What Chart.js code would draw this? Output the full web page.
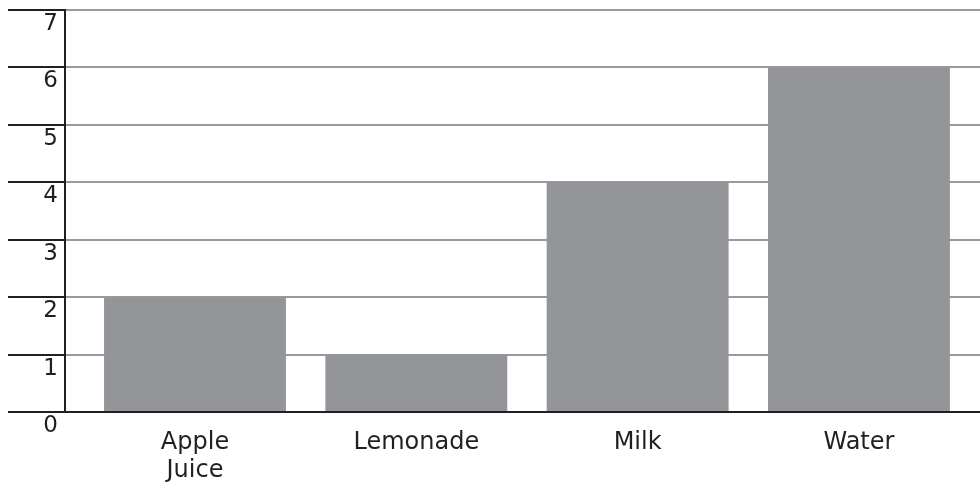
<!DOCTYPE html>
<html>
<head>
<meta charset="utf-8">
<script src="https://cdn.jsdelivr.net/npm/chart.js@4/dist/chart.umd.min.js"></script>
<style>
    html, body { margin: 0; padding: 0; background: #fff; }
    #wrap { width: 980px; height: 485px; }
</style>
</head>
<body>
<div id="wrap"><canvas id="drinksChart" width="980" height="485"></canvas></div>
<script>
// Chart data
const categories = [['Apple', 'Juice'], 'Lemonade', 'Milk', 'Water'];
const drinkCounts = [2, 1, 4, 6];
const yTickValues = [0, 1, 2, 3, 4, 5, 6, 7];

const inkColor = '#231f20';
const gridColor = '#9a9a9a';
const barColor = '#939598';

const ctx = document.getElementById('drinksChart').getContext('2d');
new Chart(ctx, {
    type: 'bar',
    data: {
        datasets: [{
            data: drinkCounts.map((v, i) => ({ x: i, y: v })),
            backgroundColor: barColor,
            borderWidth: 0,
            barPercentage: 0.822,
            categoryPercentage: 1
        }]
    },
    options: {
        responsive: false,
        animation: false,
        devicePixelRatio: 1,
        layout: { padding: { top: 10, left: 0, right: 0, bottom: 0 } },
        plugins: {
            legend: { display: false },
            tooltip: { enabled: false }
        },
        scales: {
            x: {
                type: 'linear',
                offset: false,
                bounds: 'data',
                min: -0.5874,
                max: 3.547,
                afterBuildTicks: (scale) => {
                    scale.ticks = categories.map((_, i) => ({ value: i }));
                },
                afterFit: (scale) => { scale.height = 73; },
                grid: { display: false },
                border: { color: inkColor, width: 2 },
                ticks: {
                    autoSkip: false,
                    maxRotation: 0,
                    padding: 8,
                    color: inkColor,
                    font: { family: 'DejaVu Sans', size: 24 },
                    callback: (value) => categories[value]
                }
            },
            y: {
                min: 0,
                max: 7,
                afterBuildTicks: (scale) => {
                    scale.ticks = yTickValues.map(v => ({ value: v }));
                },
                afterFit: (scale) => { scale.width = 65; },
                grid: {
                    color: gridColor,
                    lineWidth: 2,
                    tickColor: inkColor,
                    tickLength: 57,
                    tickWidth: 2
                },
                border: { color: inkColor, width: 2 },
                ticks: {
                    padding: -50,
                    labelOffset: 14,
                    color: inkColor,
                    font: { family: 'DejaVu Sans', size: 23 }
                }
            }
        }
    }
});
</script>
</body>
</html>
